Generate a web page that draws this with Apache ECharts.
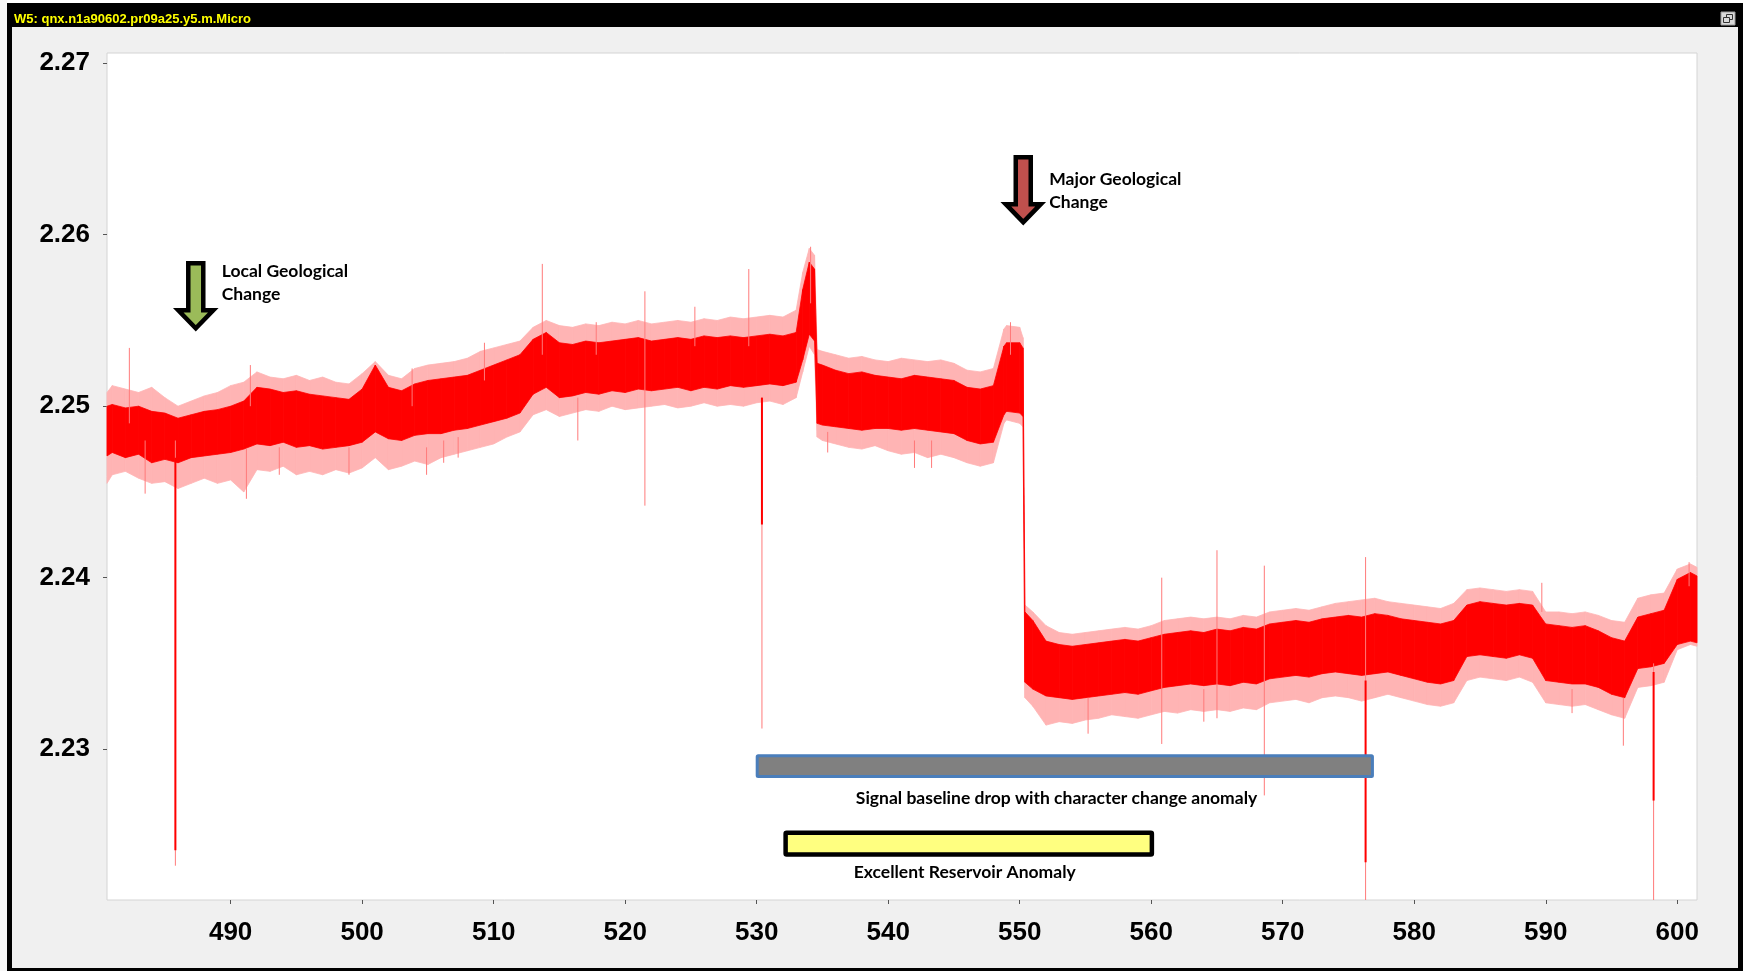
<!DOCTYPE html>
<html>
<head>
<meta charset="utf-8">
<script src="https://cdn.jsdelivr.net/npm/echarts@6/dist/echarts.min.js"></script>
<style>
html,body{margin:0;padding:0;background:#fff;}
#chart{width:1743px;height:971px;}
</style>
</head>
<body>
<div id="chart"></div>
<script>
// ---------- data ----------
const titleText = 'W5: qnx.n1a90602.pr09a25.y5.m.Micro';
const xTicks = [490, 500, 510, 520, 530, 540, 550, 560, 570, 580, 590, 600];
const yTicks = [2.23, 2.24, 2.25, 2.26, 2.27];

// depth samples of the signal envelope
const depth = [
  480.6, 481, 482, 483, 484, 485, 486, 487, 488, 489, 490, 491,
  492, 493, 494, 495, 496, 497, 498, 499, 500,
  501, 502, 503, 504, 505, 506, 507, 508, 509, 510, 511, 512,
  513, 514, 515, 516, 517, 518, 519, 520, 521, 522, 523, 524, 525, 526, 527, 528, 529, 530, 531, 532, 533,
  533.5, 534, 534.4,
  534.6, 535, 536, 537, 538, 539, 540, 541, 542, 543, 544, 545, 546, 547, 548,
  548.8, 549, 550, 550.25,
  550.4, 551, 552, 553, 554, 555, 556, 557, 558, 559, 560, 561, 562, 563, 564, 565, 566, 567, 568, 569, 570,
  571, 572, 573, 574, 575, 576, 577, 578, 579, 580, 581, 582, 583, 584, 585, 586, 587, 588, 589, 590,
  591, 592, 593, 594, 595, 596, 597, 598, 599, 600, 601, 601.5
];
// dense (solid) part of the trace, upper edge
const coreHigh = [
  2.2500, 2.2501, 2.2499, 2.2500, 2.2497, 2.2496, 2.2493, 2.2495, 2.2497, 2.2498, 2.2500, 2.2503,
  2.2511, 2.2510, 2.2508, 2.2509, 2.2507, 2.2506, 2.2505, 2.2504, 2.2510,
  2.2524, 2.2511, 2.2509, 2.2513, 2.2515, 2.2516, 2.2517, 2.2518, 2.2521, 2.2524, 2.2527, 2.2530,
  2.2539, 2.2543, 2.2537, 2.2536, 2.2538, 2.2537, 2.2538, 2.2539, 2.2540, 2.2538, 2.2539, 2.2540, 2.2539, 2.2541, 2.2540, 2.2541, 2.2540, 2.2541, 2.2542, 2.2541, 2.2543,
  2.2568, 2.2584, 2.2580,
  2.2525, 2.2524, 2.2521, 2.2519, 2.2520, 2.2518, 2.2517, 2.2516, 2.2518, 2.2517, 2.2516, 2.2515, 2.2511, 2.2510, 2.2512,
  2.2535, 2.2537, 2.2537, 2.2534,
  2.2380, 2.2375, 2.2363, 2.2361, 2.2360, 2.2361, 2.2362, 2.2363, 2.2364, 2.2363, 2.2365, 2.2367, 2.2368, 2.2369, 2.2368, 2.2370, 2.2369, 2.2371, 2.2370, 2.2373, 2.2374,
  2.2375, 2.2374, 2.2376, 2.2377, 2.2378, 2.2377, 2.2379, 2.2378, 2.2376, 2.2375, 2.2374, 2.2373, 2.2375, 2.2384, 2.2386, 2.2385, 2.2384, 2.2385, 2.2384, 2.2373,
  2.2372, 2.2371, 2.2372, 2.2369, 2.2365, 2.2363, 2.2377, 2.2379, 2.2381, 2.2399, 2.2403, 2.2401
];
// dense (solid) part of the trace, lower edge
const coreLow = [
  2.2471, 2.2473, 2.2470, 2.2472, 2.2467, 2.2469, 2.2467, 2.2470, 2.2471, 2.2472, 2.2473, 2.2475,
  2.2478, 2.2477, 2.2479, 2.2476, 2.2477, 2.2475, 2.2476, 2.2477, 2.2479,
  2.2485, 2.2481, 2.2480, 2.2483, 2.2484, 2.2484, 2.2486, 2.2487, 2.2489, 2.2491, 2.2493, 2.2496,
  2.2507, 2.2511, 2.2505, 2.2506, 2.2508, 2.2507, 2.2509, 2.2508, 2.2510, 2.2509, 2.2510, 2.2511, 2.2509, 2.2511, 2.2510, 2.2512, 2.2511, 2.2512, 2.2513, 2.2512, 2.2514,
  2.2527, 2.2542, 2.2538,
  2.2490, 2.2489, 2.2488, 2.2487, 2.2486, 2.2487, 2.2487, 2.2486, 2.2487, 2.2486, 2.2485, 2.2484, 2.2480, 2.2478, 2.2479,
  2.2495, 2.2497, 2.2496, 2.2494,
  2.2339, 2.2335, 2.2331, 2.2330, 2.2329, 2.2330, 2.2331, 2.2332, 2.2333, 2.2332, 2.2334, 2.2336, 2.2337, 2.2338, 2.2337, 2.2338, 2.2337, 2.2339, 2.2338, 2.2341, 2.2342,
  2.2343, 2.2342, 2.2344, 2.2345, 2.2344, 2.2343, 2.2344, 2.2345, 2.2343, 2.2341, 2.2339, 2.2338, 2.2340, 2.2354, 2.2355, 2.2354, 2.2353, 2.2355, 2.2353, 2.2340,
  2.2339, 2.2338, 2.2338, 2.2336, 2.2332, 2.2330, 2.2347, 2.2348, 2.2350, 2.2361, 2.2363, 2.2362
];
// sparse (pale) noise fringe, upper edge
const fringeHigh = [
  2.2508, 2.2512, 2.2510, 2.2508, 2.2511, 2.2505, 2.2500, 2.2503, 2.2506, 2.2508, 2.2512, 2.2514,
  2.2520, 2.2517, 2.2516, 2.2518, 2.2515, 2.2517, 2.2514, 2.2513, 2.2519,
  2.2526, 2.2518, 2.2516, 2.2522, 2.2524, 2.2525, 2.2526, 2.2528, 2.2532, 2.2534, 2.2536, 2.2538,
  2.2546, 2.2550, 2.2547, 2.2546, 2.2548, 2.2547, 2.2549, 2.2548, 2.2550, 2.2548, 2.2549, 2.2550, 2.2549, 2.2551, 2.2550, 2.2552, 2.2551, 2.2552, 2.2553, 2.2552, 2.2556,
  2.2578, 2.2592, 2.2588,
  2.2533, 2.2532, 2.2530, 2.2528, 2.2529, 2.2527, 2.2526, 2.2528, 2.2527, 2.2526, 2.2527, 2.2525, 2.2521, 2.2520, 2.2522,
  2.2545, 2.2547, 2.2546, 2.2540,
  2.2384, 2.2380, 2.2372, 2.2368, 2.2367, 2.2368, 2.2369, 2.2370, 2.2371, 2.2370, 2.2372, 2.2375, 2.2376, 2.2377, 2.2376, 2.2377, 2.2376, 2.2378, 2.2377, 2.2380, 2.2381,
  2.2382, 2.2381, 2.2383, 2.2385, 2.2386, 2.2387, 2.2388, 2.2386, 2.2385, 2.2384, 2.2383, 2.2382, 2.2385, 2.2393, 2.2394, 2.2393, 2.2392, 2.2393, 2.2392, 2.2380,
  2.2380, 2.2379, 2.2380, 2.2378, 2.2375, 2.2374, 2.2388, 2.2390, 2.2391, 2.2405, 2.2408, 2.2406
];
// sparse (pale) noise fringe, lower edge
const fringeLow = [
  2.2455, 2.2460, 2.2462, 2.2458, 2.2455, 2.2456, 2.2452, 2.2455, 2.2458, 2.2455, 2.2457, 2.2450,
  2.2463, 2.2462, 2.2465, 2.2460, 2.2462, 2.2460, 2.2463, 2.2461, 2.2464,
  2.2470, 2.2463, 2.2465, 2.2468, 2.2466, 2.2470, 2.2472, 2.2474, 2.2476, 2.2478, 2.2482, 2.2485,
  2.2495, 2.2498, 2.2494, 2.2496, 2.2498, 2.2497, 2.2500, 2.2498, 2.2499, 2.2500, 2.2501, 2.2499, 2.2500, 2.2502, 2.2500, 2.2501, 2.2500, 2.2502, 2.2503, 2.2501, 2.2505,
  2.2520, 2.2535, 2.2530,
  2.2482, 2.2480, 2.2478, 2.2476, 2.2475, 2.2477, 2.2474, 2.2472, 2.2473, 2.2470, 2.2472, 2.2470, 2.2467, 2.2465, 2.2467,
  2.2490, 2.2492, 2.2490, 2.2488,
  2.2330, 2.2325, 2.2314, 2.2316, 2.2315, 2.2317, 2.2318, 2.2320, 2.2319, 2.2318, 2.2320, 2.2322, 2.2321, 2.2323, 2.2322, 2.2323, 2.2322, 2.2324, 2.2323, 2.2327, 2.2328,
  2.2329, 2.2327, 2.2330, 2.2331, 2.2330, 2.2328, 2.2330, 2.2332, 2.2330, 2.2328, 2.2326, 2.2325, 2.2327, 2.2340, 2.2342, 2.2341, 2.2340, 2.2342, 2.2339, 2.2327,
  2.2326, 2.2325, 2.2326, 2.2323, 2.2320, 2.2318, 2.2336, 2.2337, 2.2339, 2.2358, 2.2361, 2.2360
];

// isolated thin spikes
const spikeDepth  = [482.3, 483.5, 485.8, 491.2, 491.5, 493.7, 499.0, 503.8, 504.9, 506.2, 507.3, 509.3, 513.7, 516.4, 517.8,
                     521.5, 525.3, 529.4, 530.4, 534.1, 535.4, 542.0, 543.3, 549.3, 555.2, 560.8, 564.0, 565.0, 568.6, 576.3,
                     589.7, 592.0, 595.9, 598.2, 600.9];
const spikeTop    = [2.2534, 2.2480, 2.2480, 2.2475, 2.2524, 2.2476, 2.2476, 2.2522, 2.2476, 2.2480, 2.2482, 2.2537, 2.2583, 2.2505, 2.2549,
                     2.2567, 2.2558, 2.2580, 2.2505, 2.2593, 2.2485, 2.2480, 2.2480, 2.2549, 2.2330, 2.2400, 2.2335, 2.2416, 2.2407, 2.2412,
                     2.2397, 2.2335, 2.2330, 2.2350, 2.2409];
const spikeBottom = [2.2490, 2.2449, 2.2232, 2.2446, 2.2500, 2.2460, 2.2460, 2.2500, 2.2460, 2.2467, 2.2470, 2.2515, 2.2530, 2.2480, 2.2530,
                     2.2442, 2.2535, 2.2535, 2.2312, 2.2560, 2.2473, 2.2464, 2.2464, 2.2530, 2.2309, 2.2303, 2.2316, 2.2318, 2.2273, 2.2212,
                     2.2380, 2.2321, 2.2302, 2.2212, 2.2395];
// solid parts of the deep spikes
const heavyDepth  = [485.8, 530.4, 576.3, 598.2];
const heavyTop    = [2.2470, 2.2505, 2.2340, 2.2345];
const heavyBottom = [2.2241, 2.2431, 2.2234, 2.2270];

// annotations
const arrowDepth = [487.35, 550.27];
const arrowTip   = [2.25431, 2.26050];
const arrowFill  = ['#9bbb59', '#c0504d'];
const arrowText  = ['Local Geological\nChange', 'Major Geological\nChange'];
const barStart   = [530.04, 532.2];
const barEnd     = [576.82, 560.05];
const barTop     = [2.22962, 2.22512];
const barBottom  = [2.22840, 2.22385];
const barFill    = ['#808080', '#ffff80'];
const barStroke  = ['#4a7ebb', '#000000'];
const barText    = ['Signal baseline drop with character change anomaly', 'Excellent Reservoir Anomaly'];
const barTextDepth = [552.8, 545.82];
const barTextValue = [2.22714, 2.22283];

// ---------- chart ----------
const chart = echarts.init(document.getElementById('chart'));

function bandSeries(lo, hi, color, z) {
  const data = [];
  for (let i = 0; i < depth.length - 1; i++) {
    data.push([depth[i], lo[i], hi[i], depth[i + 1], lo[i + 1], hi[i + 1]]);
  }
  return {
    type: 'custom', z: z, silent: true, animation: false,
    data: data,
    encode: { x: [0, 3], y: [1, 2, 4, 5] },
    renderItem: function (params, api) {
      const a = api.coord([api.value(0), api.value(1)]);
      const b = api.coord([api.value(0), api.value(2)]);
      const c = api.coord([api.value(3), api.value(5)]);
      const d = api.coord([api.value(3), api.value(4)]);
      return { type: 'polygon', shape: { points: [a, b, c, d] },
        style: { fill: color, stroke: color, lineWidth: 0.8 } };
    }
  };
}

function spikeSeries(ds, tops, bots, color, width, z) {
  return {
    type: 'custom', z: z, silent: true, animation: false,
    data: ds.map((d, i) => [d, tops[i], bots[i]]),
    encode: { x: 0, y: [1, 2] },
    renderItem: function (params, api) {
      const p1 = api.coord([api.value(0), api.value(1)]);
      const p2 = api.coord([api.value(0), api.value(2)]);
      return { type: 'line', shape: { x1: p1[0], y1: p1[1], x2: p2[0], y2: p2[1] },
        style: { stroke: color, lineWidth: width } };
    }
  };
}

const annFont = 'bold 17.5px Lato';

const option = {
  backgroundColor: '#f0f0f0',
  animation: false,
  grid: { left: 107, right: 46, top: 53, bottom: 71, show: true,
    backgroundColor: '#ffffff', borderColor: '#d4d4d4', borderWidth: 1 },
  xAxis: {
    type: 'value', min: 480.6, max: 601.5,
    axisLine: { show: false },
    splitLine: { show: false },
    axisTick: { show: true, length: 4, customValues: xTicks, lineStyle: { color: '#555' } },
    axisLabel: { customValues: xTicks, margin: 20, color: '#000', fontSize: 26,
      fontWeight: 'bold', fontFamily: 'Liberation Sans' }
  },
  yAxis: {
    type: 'value', min: 2.2212, max: 2.2706,
    axisLine: { show: false },
    splitLine: { show: false },
    axisTick: { show: true, length: 4, customValues: yTicks, lineStyle: { color: '#555' } },
    axisLabel: { customValues: yTicks, margin: 17, color: '#000', fontSize: 26,
      fontWeight: 'bold', fontFamily: 'Liberation Sans',
      formatter: v => v.toFixed(2) }
  },
  series: [
    bandSeries(fringeLow, fringeHigh, '#ffb4b4', 2),
    bandSeries(coreLow, coreHigh, '#ff0000', 3),
    spikeSeries(spikeDepth, spikeTop, spikeBottom, '#ff7a7a', 1, 4),
    spikeSeries(heavyDepth, heavyTop, heavyBottom, '#ff0000', 2, 5),
    {
      type: 'custom', z: 10, silent: true, animation: false,
      data: barStart.map((s, i) => [s, barEnd[i], barTop[i], barBottom[i]]),
      encode: { x: [0, 1], y: [2, 3] },
      renderItem: function (params, api) {
        const i = params.dataIndex;
        const p1 = api.coord([api.value(0), api.value(2)]);
        const p2 = api.coord([api.value(1), api.value(3)]);
        const t = api.coord([barTextDepth[i], barTextValue[i]]);
        return { type: 'group', children: [
          { type: 'rect', shape: { x: p1[0], y: p1[1], width: p2[0] - p1[0], height: p2[1] - p1[1], r: 1 },
            style: { fill: barFill[i], stroke: barStroke[i], lineWidth: i === 0 ? 3 : 4.5 } },
          { type: 'text', x: t[0], y: t[1],
            style: { text: barText[i], font: annFont, fill: '#000', align: 'center', verticalAlign: 'middle' } }
        ] };
      }
    },
    {
      type: 'custom', z: 10, silent: true, animation: false,
      data: arrowDepth.map((d, i) => [d, arrowTip[i]]),
      encode: { x: 0, y: 1 },
      renderItem: function (params, api) {
        const i = params.dataIndex;
        const p = api.coord([api.value(0), api.value(1)]);
        const x = p[0], y = p[1];
        const pts = [
          [x - 7.5, y - 69], [x + 7.5, y - 69], [x + 7.5, y - 22], [x + 17.5, y - 22],
          [x, y - 4], [x - 17.5, y - 22], [x - 7.5, y - 22]
        ];
        const textTop = i === 0 ? y - 72.5 : y - 58.5;
        return { type: 'group', children: [
          { type: 'polygon', shape: { points: pts },
            style: { fill: arrowFill[i], stroke: '#000', lineWidth: 4.5, lineJoin: 'miter' } },
          { type: 'text', x: x + 26, y: textTop,
            style: { text: arrowText[i], font: annFont, fill: '#000', align: 'left',
              verticalAlign: 'top', lineHeight: 23 } }
        ] };
      }
    }
  ],
  graphic: [
    { type: 'rect', z: 100, shape: { x: 0, y: 0, width: 1743, height: 3 }, style: { fill: '#ffffff' } },
    { type: 'rect', z: 100, shape: { x: 0, y: 0, width: 7, height: 971 }, style: { fill: '#f7f7f7' } },
    { type: 'rect', z: 100, shape: { x: 7, y: 3, width: 1736, height: 24 }, style: { fill: '#000000' } },
    { type: 'rect', z: 100, shape: { x: 7, y: 3, width: 5, height: 968 }, style: { fill: '#000000' } },
    { type: 'rect', z: 100, shape: { x: 1738, y: 3, width: 5, height: 968 }, style: { fill: '#000000' } },
    { type: 'rect', z: 100, shape: { x: 7, y: 968, width: 1736, height: 3 }, style: { fill: '#000000' } },
    { type: 'text', z: 101, x: 14, y: 19,
      style: { text: titleText, font: 'bold 13px "Liberation Sans"', fill: '#ffff00', verticalAlign: 'middle' } },
    { type: 'rect', z: 101, shape: { x: 1721, y: 12, width: 14, height: 13 }, style: { fill: '#d9d9d9', stroke: '#9a9a9a', lineWidth: 1 } },
    { type: 'rect', z: 102, shape: { x: 1726.5, y: 14.5, width: 6, height: 5 }, style: { fill: 'none', stroke: '#333', lineWidth: 1 } },
    { type: 'rect', z: 102, shape: { x: 1723.5, y: 17.5, width: 6, height: 5 }, style: { fill: '#d9d9d9', stroke: '#333', lineWidth: 1 } }
  ]
};
chart.setOption(option);
</script>
</body>
</html>
